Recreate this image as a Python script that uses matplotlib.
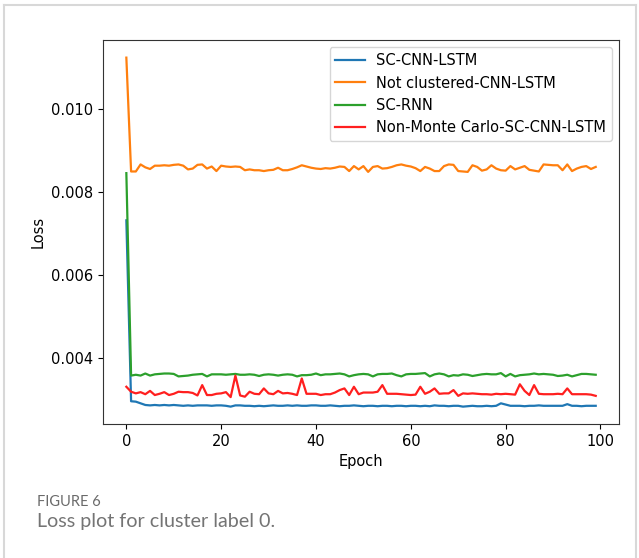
import numpy as np
import matplotlib
matplotlib.use('Agg')
import matplotlib.pyplot as plt
from matplotlib.lines import Line2D

# loss values, one per epoch (0..99)
sc_cnn_lstm = [0.00732, 0.00295, 0.00294, 0.00290, 0.00286, 0.00285, 0.00286, 0.00285, 0.00286, 0.00285,
               0.00286, 0.00285, 0.00284, 0.00285, 0.00284, 0.00285, 0.00285, 0.00285, 0.00284, 0.00285,
               0.00285, 0.00284, 0.00282, 0.00285, 0.00285, 0.00284, 0.00284, 0.00283, 0.00284, 0.00283,
               0.00284, 0.00285, 0.00284, 0.00284, 0.00285, 0.00284, 0.00285, 0.00284, 0.00284, 0.00285,
               0.00285, 0.00284, 0.00284, 0.00285, 0.00284, 0.00283, 0.00284, 0.00284, 0.00285, 0.00284,
               0.00283, 0.00284, 0.00284, 0.00283, 0.00284, 0.00284, 0.00283, 0.00284, 0.00284, 0.00283,
               0.00284, 0.00284, 0.00283, 0.00284, 0.00283, 0.00285, 0.00284, 0.00284, 0.00283, 0.00284,
               0.00284, 0.00282, 0.00283, 0.00284, 0.00283, 0.00283, 0.00284, 0.00283, 0.00284, 0.00290,
               0.00287, 0.00284, 0.00284, 0.00284, 0.00283, 0.00284, 0.00284, 0.00285, 0.00284, 0.00284,
               0.00284, 0.00284, 0.00284, 0.00288, 0.00284, 0.00284, 0.00283, 0.00284, 0.00284, 0.00284]
not_clustered = [0.01125, 0.00850, 0.00850, 0.00867, 0.00860, 0.00856, 0.00864, 0.00864, 0.00865, 0.00864,
                 0.00866, 0.00867, 0.00864, 0.00855, 0.00857, 0.00866, 0.00867, 0.00857, 0.00862, 0.00851,
                 0.00864, 0.00862, 0.00861, 0.00862, 0.00861, 0.00853, 0.00855, 0.00853, 0.00853, 0.00851,
                 0.00853, 0.00854, 0.00859, 0.00853, 0.00853, 0.00856, 0.00860, 0.00865, 0.00862, 0.00859,
                 0.00857, 0.00856, 0.00858, 0.00857, 0.00859, 0.00862, 0.00861, 0.00851, 0.00863, 0.00855,
                 0.00863, 0.00849, 0.00861, 0.00863, 0.00857, 0.00858, 0.00861, 0.00865, 0.00867, 0.00864,
                 0.00862, 0.00858, 0.00851, 0.00861, 0.00857, 0.00851, 0.00851, 0.00863, 0.00867, 0.00866,
                 0.00851, 0.00850, 0.00849, 0.00865, 0.00861, 0.00852, 0.00855, 0.00865, 0.00857, 0.00853,
                 0.00852, 0.00863, 0.00855, 0.00859, 0.00863, 0.00854, 0.00852, 0.00850, 0.00867, 0.00866,
                 0.00865, 0.00865, 0.00853, 0.00867, 0.00851, 0.00857, 0.00861, 0.00863, 0.00856, 0.00861]
sc_rnn = [0.00846, 0.00357, 0.00359, 0.00357, 0.00362, 0.00357, 0.00360, 0.00361, 0.00362, 0.00362,
          0.00361, 0.00355, 0.00356, 0.00357, 0.00359, 0.00360, 0.00361, 0.00355, 0.00360, 0.00360,
          0.00360, 0.00359, 0.00360, 0.00361, 0.00359, 0.00359, 0.00360, 0.00359, 0.00356, 0.00359,
          0.00360, 0.00359, 0.00357, 0.00359, 0.00360, 0.00359, 0.00355, 0.00358, 0.00358, 0.00359,
          0.00362, 0.00358, 0.00360, 0.00360, 0.00361, 0.00362, 0.00360, 0.00355, 0.00358, 0.00360,
          0.00361, 0.00360, 0.00355, 0.00360, 0.00361, 0.00361, 0.00362, 0.00358, 0.00355, 0.00360,
          0.00361, 0.00361, 0.00362, 0.00363, 0.00355, 0.00360, 0.00362, 0.00360, 0.00355, 0.00358,
          0.00357, 0.00360, 0.00359, 0.00356, 0.00358, 0.00360, 0.00361, 0.00360, 0.00360, 0.00363,
          0.00355, 0.00361, 0.00355, 0.00358, 0.00359, 0.00360, 0.00362, 0.00360, 0.00361, 0.00360,
          0.00359, 0.00356, 0.00357, 0.00359, 0.00355, 0.00358, 0.00361, 0.00361, 0.00360, 0.00359]
non_monte_carlo = [0.00330, 0.00318, 0.00314, 0.00317, 0.00312, 0.00320, 0.00310, 0.00313, 0.00317, 0.00310,
                   0.00313, 0.00318, 0.00317, 0.00317, 0.00315, 0.00309, 0.00334, 0.00310, 0.00310, 0.00313,
                   0.00314, 0.00317, 0.00305, 0.00357, 0.00309, 0.00306, 0.00318, 0.00313, 0.00312, 0.00326,
                   0.00314, 0.00312, 0.00320, 0.00314, 0.00315, 0.00313, 0.00310, 0.00350, 0.00313, 0.00313,
                   0.00313, 0.00310, 0.00312, 0.00312, 0.00316, 0.00322, 0.00326, 0.00310, 0.00330, 0.00312,
                   0.00316, 0.00316, 0.00316, 0.00318, 0.00334, 0.00313, 0.00313, 0.00313, 0.00312, 0.00311,
                   0.00310, 0.00311, 0.00330, 0.00313, 0.00318, 0.00326, 0.00313, 0.00314, 0.00314, 0.00322,
                   0.00308, 0.00314, 0.00313, 0.00314, 0.00313, 0.00312, 0.00312, 0.00311, 0.00313, 0.00312,
                   0.00313, 0.00312, 0.00311, 0.00336, 0.00320, 0.00310, 0.00334, 0.00313, 0.00312, 0.00312,
                   0.00312, 0.00313, 0.00312, 0.00326, 0.00312, 0.00312, 0.00312, 0.00312, 0.00311, 0.00308]
epochs = np.arange(len(sc_cnn_lstm))

series = [('SC-CNN-LSTM', sc_cnn_lstm, '#1f77b4'),
          ('Not clustered-CNN-LSTM', not_clustered, '#ff7f0e'),
          ('SC-RNN', sc_rnn, '#2ca02c'),
          ('Non-Monte Carlo-SC-CNN-LSTM', non_monte_carlo, '#ff1f1f')]

plt.rcParams['font.size'] = 10.5
fig = plt.figure(figsize=(6.39, 5.58), dpi=100)
ax = fig.add_axes([0.161, 0.240, 0.808, 0.688])

for label, vals, color in series:
    ax.plot(epochs, vals, color=color, label=label, lw=1.6)

ax.set_xticks([0, 20, 40, 60, 80, 100])
ax.set_yticks([0.004, 0.006, 0.008, 0.010])
ax.set_xlabel('Epoch')
ax.set_ylabel('Loss')
ax.legend(loc='upper right')
for s in ax.spines.values():
    s.set_color('#333333')

# card border around the figure
fig.add_artist(Line2D([0.006, 0.006], [0.0, 0.991], transform=fig.transFigure, color='#d8d8d8', lw=1.5))
fig.add_artist(Line2D([0.006, 0.995], [0.991, 0.991], transform=fig.transFigure, color='#d8d8d8', lw=1.5))
fig.add_artist(Line2D([0.995, 0.995], [0.0, 0.991], transform=fig.transFigure, color='#d8d8d8', lw=1.5))

# caption
fig.text(37 / 639, 1 - 502 / 558, 'FIGURE 6', fontsize=10.5, color='#6a6a6a',
         family='Lato', va='center', ha='left')
fig.text(37 / 639, 1 - 521 / 558, 'Loss plot for cluster label 0.', fontsize=14.2, color='#747474',
         family='Lato', va='center', ha='left')

fig.savefig('out.png', dpi=100)
